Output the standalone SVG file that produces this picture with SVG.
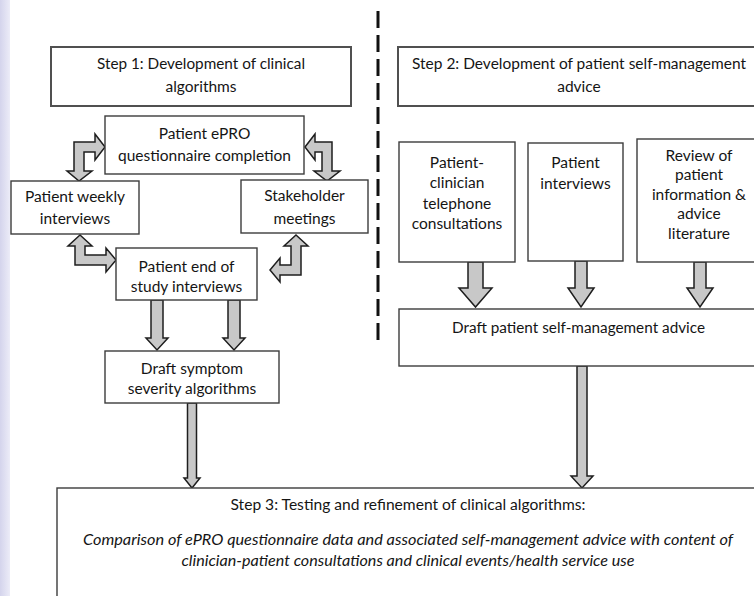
<svg xmlns="http://www.w3.org/2000/svg" width="754" height="596" viewBox="0 0 754 596">
<defs>
<linearGradient id="edge" x1="0" y1="0" x2="1" y2="0">
<stop offset="0" stop-color="#d4d4ec"/>
<stop offset="1" stop-color="#ececf8"/>
</linearGradient>
<style>
.box{fill:#fff;stroke:#3c3c3c;stroke-width:1.4}
.step{fill:#fff;stroke:#505050;stroke-width:2}
.arr{fill:#c8c8c8;stroke:#1e1e1e;stroke-width:1.5;stroke-linejoin:miter}
text{font-family:Lato,"Open Sans","Liberation Sans",sans-serif;font-size:15.5px;fill:#151515;text-anchor:middle}
.it{font-style:italic}
</style>
</defs>
<rect x="0" y="0" width="754" height="596" fill="#fff"/>
<rect x="0" y="0" width="10" height="596" fill="url(#edge)"/>
<line x1="378" y1="11" x2="378" y2="347" stroke="#111" stroke-width="3" stroke-dasharray="17 7"/>

<g id="connectors">
<path class="arr" d="M105,147 L95,134 L95,142 L74,142 L74,171 L67,171 L79,181 L92,171 L84,171 L84,152 L95,152 L95,160 Z"/>
<path class="arr" d="M305,147 L315,134 L315,142 L332,142 L332,171 L340,171 L327,181 L314,171 L322,171 L322,152 L315,152 L315,160 Z"/>
<path class="arr" d="M80,235 L92,246 L85,246 L85,255 L106,255 L106,248 L116,260 L106,272 L106,265 L75,265 L75,246 L68,246 Z"/>
<path class="arr" d="M296,235 L308,246 L301,246 L301,275 L280,275 L280,282 L270,270 L280,258 L280,265 L291,265 L291,246 L284,246 Z"/>
<path class="arr" d="M151,300 L163,300 L163,338 L168,338 L157,350 L146,338 L151,338 Z"/>
<path class="arr" d="M228,300 L240,300 L240,338 L245,338 L234,350 L223,338 L228,338 Z"/>
<path class="arr" d="M468,262 L483,262 L483,288 L492,288 L475.5,307 L459,288 L468,288 Z"/>
<path class="arr" d="M575,261 L587,261 L587,288 L594,288 L581,307 L568,288 L575,288 Z"/>
<path class="arr" d="M694,262 L706,262 L706,288 L713,288 L700,307 L687,288 L694,288 Z"/>
<path class="arr" d="M187.5,403 L196.5,403 L196.5,478 L200,478 L192,488 L184,478 L187.5,478 Z"/>
<path class="arr" d="M577,366 L587,366 L587,476 L593,476 L582,488 L571,476 L577,476 Z"/>
</g>

<g id="step1">
<rect class="step" x="51" y="47" width="300" height="59"/>
<text x="201" y="68.5" textLength="208" lengthAdjust="spacingAndGlyphs">Step 1: Development of clinical</text>
<text x="201" y="91.5">algorithms</text>
</g>
<g id="epro">
<rect class="box" x="105" y="116" width="199" height="58"/>
<text x="204.5" y="138.5">Patient ePRO</text>
<text x="204.5" y="160.5" textLength="173" lengthAdjust="spacingAndGlyphs">questionnaire completion</text>
</g>
<g id="weekly">
<rect class="box" x="11" y="181" width="128" height="53"/>
<text x="75" y="201.5">Patient weekly</text>
<text x="75" y="224">interviews</text>
</g>
<g id="stakeholder">
<rect class="box" x="241" y="180" width="127" height="53"/>
<text x="304.5" y="201">Stakeholder</text>
<text x="304.5" y="224">meetings</text>
</g>
<g id="endstudy">
<rect class="box" x="116" y="248" width="141" height="52"/>
<text x="186.5" y="271.5">Patient end of</text>
<text x="186.5" y="291.5">study interviews</text>
</g>
<g id="draftsymptom">
<rect class="box" x="105" y="351" width="174" height="52"/>
<text x="192" y="373.5">Draft symptom</text>
<text x="192" y="393.5">severity algorithms</text>
</g>

<g id="step2">
<rect class="step" x="398" y="47" width="364" height="59"/>
<text x="579" y="68.5" textLength="334" lengthAdjust="spacingAndGlyphs">Step 2: Development of patient self-management</text>
<text x="579" y="91.5">advice</text>
</g>
<g id="consultations">
<rect class="box" x="399" y="142" width="116" height="120"/>
<text x="457" y="167.5">Patient-</text>
<text x="457" y="187.5">clinician</text>
<text x="457" y="208.5">telephone</text>
<text x="457" y="228.5">consultations</text>
</g>
<g id="interviews">
<rect class="box" x="528" y="143" width="95" height="118"/>
<text x="575.5" y="167.5">Patient</text>
<text x="575.5" y="188.5">interviews</text>
</g>
<g id="review">
<rect class="box" x="637" y="139" width="125" height="123"/>
<text x="699" y="160.5">Review of</text>
<text x="699" y="180">patient</text>
<text x="699" y="199.5">information &amp;</text>
<text x="699" y="219">advice</text>
<text x="699" y="238.5">literature</text>
</g>
<g id="draftadvice">
<rect class="box" x="399" y="309" width="363" height="57"/>
<text x="578.5" y="332.5" textLength="253" lengthAdjust="spacingAndGlyphs">Draft patient self-management advice</text>
</g>

<g id="step3">
<rect class="box" x="57" y="488" width="706" height="115"/>
<text x="408" y="509.5" textLength="355" lengthAdjust="spacingAndGlyphs">Step 3: Testing and refinement of clinical algorithms:</text>
<text class="it" x="408" y="544.5" textLength="650" lengthAdjust="spacingAndGlyphs">Comparison of ePRO questionnaire data and associated self-management advice with content of</text>
<text class="it" x="408" y="565.5" textLength="453" lengthAdjust="spacingAndGlyphs">clinician-patient consultations and clinical events/health service use</text>
</g>
</svg>
